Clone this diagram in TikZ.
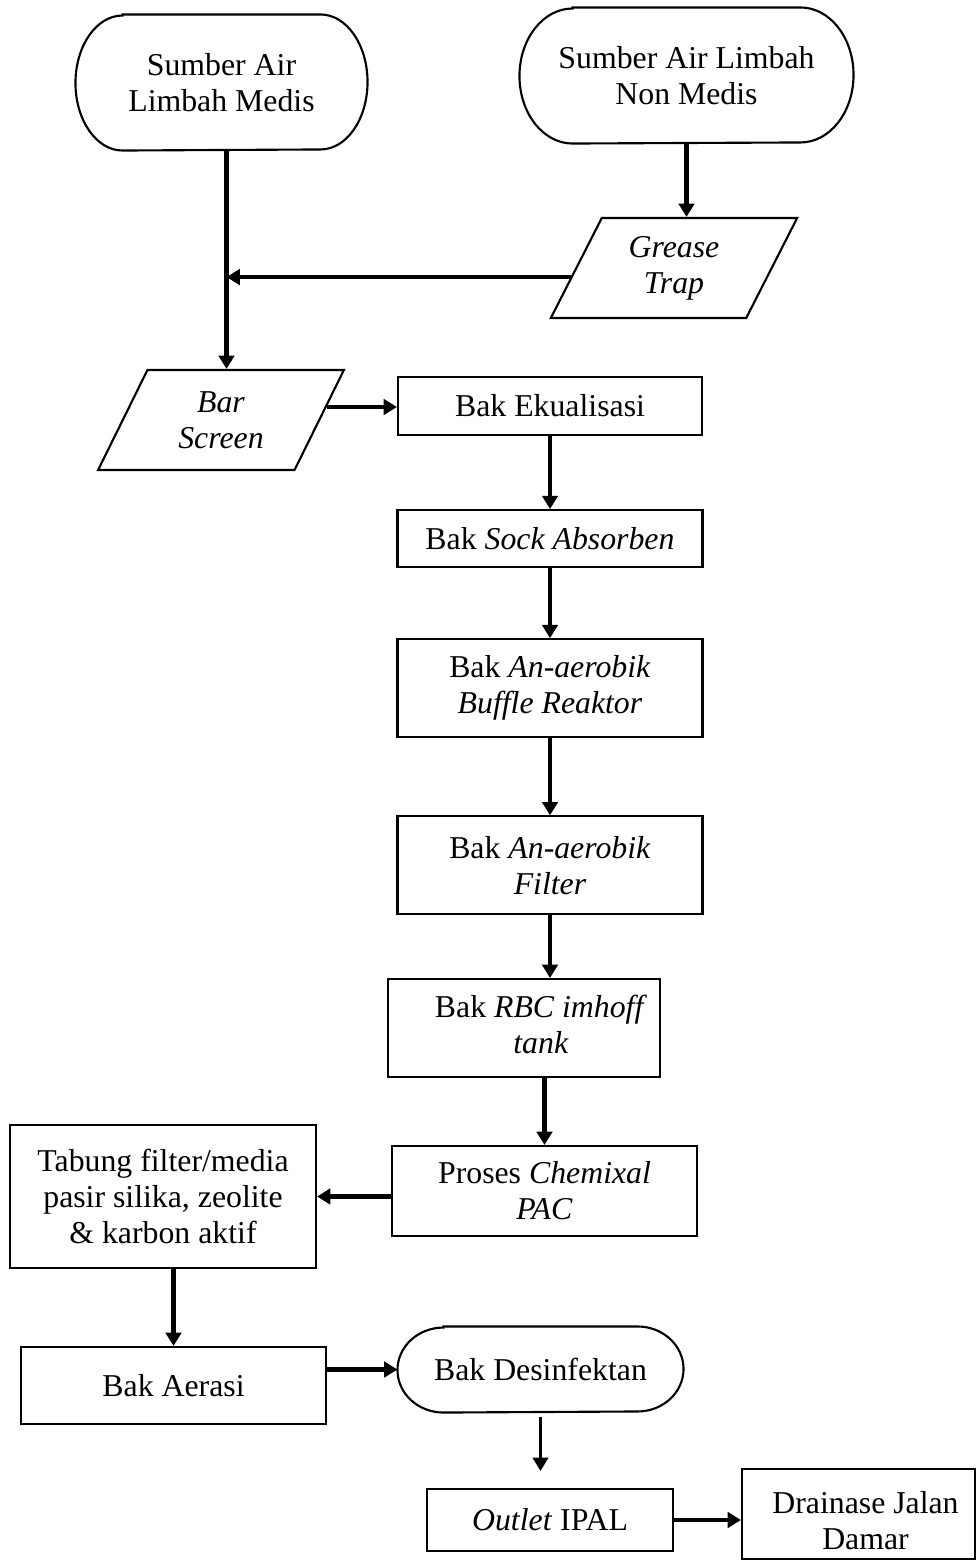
\documentclass[tikz,border=0pt]{standalone}
\usepackage{fontspec}
\setmainfont{Liberation Serif}
\usetikzlibrary{arrows.meta, positioning, shapes.geometric}
\newlength\pxu
\setlength\pxu{0.3774pt}

\begin{document}
\begin{tikzpicture}[
    x=\pxu, y=\pxu,
    >={Triangle[length=5pt, width=5.8pt]},
    font=\fontsize{12}{13.6}\selectfont,
    every node/.style={align=center, inner sep=0pt},
    box/.style={draw, line width=0.8pt},
    outline/.style={line width=0.8pt},
    inout/.style={draw, line width=0.8pt, trapezium, trapezium left angle=63.4,
        trapezium right angle=116.6, trapezium stretches=true,
        minimum width=247\pxu, minimum height=100\pxu, font=\fontsize{12}{13.6}\selectfont\itshape},
    flow/.style={->, line width=1.6pt},
]
    \useasboundingbox (0,0) rectangle (977,-1561);

    \node[minimum width=291\pxu, minimum height=135\pxu] (medis)    at (221.5,-82.5) {Sumber Air\\Limbah Medis};
    \node[minimum width=333\pxu, minimum height=135\pxu] (nonmedis) at (686.5,-75.5) {Sumber Air Limbah\\Non Medis};
    \node[inout] (grease)    at (674,-268) {Grease\\Trap};
    \node[inout] (barscreen) at (221,-420) {Bar\\Screen};

    \node[box, minimum width=304\pxu, minimum height=58\pxu] (ekual) at (550,-406) {Bak Ekualisasi};
    \node[box, minimum width=305\pxu, minimum height=57\pxu, below=73\pxu of ekual]  (sock)   {Bak \textit{Sock Absorben}};
    \node[box, minimum width=305\pxu, minimum height=98\pxu, below=70\pxu of sock]   (buffle) {Bak \textit{An-aerobik}\\\textit{Buffle Reaktor}};
    \node[box, minimum width=305\pxu, minimum height=98\pxu, below=77\pxu of buffle] (filter) {Bak \textit{An-aerobik}\\\textit{Filter}};
    \node[box, minimum width=272\pxu, minimum height=98\pxu] (rbc) at (524,-1028)
        {\hspace*{34\pxu}\begin{tabular}{@{}c@{}}Bak \textit{RBC imhoff}\\\textit{tank}\end{tabular}};
    \node[box, minimum width=305\pxu, minimum height=90\pxu] (pac) at (544.5,-1191) {Proses \textit{Chemixal}\\\textit{PAC}};
    \node[box, minimum width=306\pxu, minimum height=143\pxu] (tabung) at (163,-1196.5) {Tabung filter/media\\pasir silika, zeolite\\\& karbon aktif};
    \node[box, minimum width=305\pxu, minimum height=77\pxu] (aerasi) at (173.5,-1385.5) {Bak Aerasi};
    \node[minimum width=285\pxu, minimum height=85\pxu] (desinf) at (540.5,-1369.5) {Bak Desinfektan};
    \node[box, minimum width=246\pxu, minimum height=62\pxu] (outlet) at (550,-1520) {\textit{Outlet} IPAL};
    \node[box, minimum width=233\pxu, minimum height=90\pxu] (drain) at (858.5,-1514)
        {\hspace*{14\pxu}\raisebox{-18\pxu}[0pt][0pt]{\begin{tabular}{@{}c@{}}Drainase Jalan\\Damar\end{tabular}}};

    % terminator outlines
    \foreach \n/\r/\h in {medis/47/67.5, nonmedis/53/67.5, desinf/46/42.5}
        \draw[outline] ([xshift=\r\pxu]\n.north west) -- ([xshift=-\r\pxu]\n.north east)
            arc[start angle=90, end angle=-90, x radius=\r\pxu, y radius=\h\pxu]
            -- ([xshift=\r\pxu]\n.south west)
            arc[start angle=270, end angle=90, x radius=\r\pxu, y radius=\h\pxu] -- cycle;

    \coordinate (merge) at ([xshift=5\pxu]medis.south |- grease.185);

    \path
        ([xshift=5\pxu]medis.south) edge [flow] (merge |- barscreen.north)
        (nonmedis.south)   edge [flow] (nonmedis.south |- grease.north)
        (grease.185)       edge [flow] (merge)
        (barscreen.7)      edge [flow] (barscreen.7 -| ekual.west)
        (ekual.south)      edge [flow] (ekual.south |- sock.north)
        (sock.south)       edge [flow] (sock.south |- buffle.north)
        (buffle.south)     edge [flow] (buffle.south |- filter.north)
        (filter.south)     edge [flow] (filter.south |- rbc.north)
        (pac.north |- rbc.south) edge [flow] (pac.north)
        (pac.west |- tabung.east) edge [flow] (tabung.east)
        (aerasi.north |- tabung.south) edge [flow] (aerasi.north)
        (aerasi.east |- desinf.west) edge [flow] (desinf.west)
        (desinf.south)     edge [flow, line width=1pt, shorten <=4\pxu, shorten >=17\pxu] (desinf.south |- outlet.north)
        (outlet.east)      edge [flow] (outlet.east -| drain.west)
    ;
\end{tikzpicture}
\end{document}
